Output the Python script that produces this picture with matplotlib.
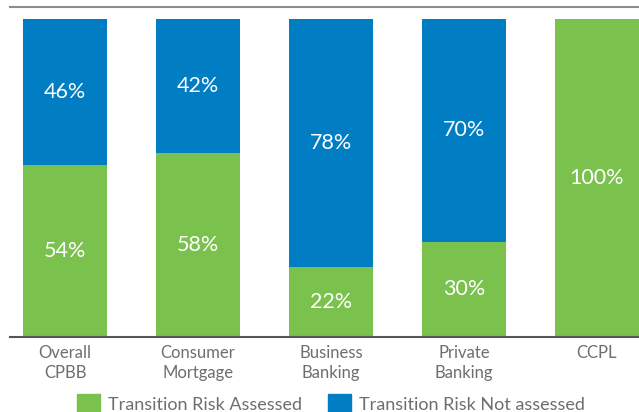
import numpy as np
import matplotlib.pyplot as plt
from matplotlib.patches import Patch

plt.rcParams['font.family'] = ['Lato', 'DejaVu Sans']

# segment shares per business line (percent)
categories = ['Overall\nCPBB', 'Consumer\nMortgage', 'Business\nBanking', 'Private\nBanking', 'CCPL']
assessed = [54, 58, 22, 30, 100]
not_assessed = [46, 42, 78, 70, 0]

green = '#7bc14e'
blue = '#007dc3'
grey = '#8c8c8c'

fig = plt.figure(figsize=(6.39, 4.12), dpi=100)
ax = fig.add_axes([10 / 639, 75 / 412, 629 / 639, 330 / 412])

x = np.arange(len(categories))
w = 0.632
ax.bar(x, assessed, w, color=green)
ax.bar(x, not_assessed, w, bottom=assessed, color=blue)

for i in range(len(categories)):
    if assessed[i] > 0:
        ax.text(x[i], assessed[i] / 2, '%d%%' % assessed[i], ha='center', va='center',
                color='white', fontsize=15.5)
    if not_assessed[i] > 0:
        ax.text(x[i], assessed[i] + not_assessed[i] / 2, '%d%%' % not_assessed[i],
                ha='center', va='center', color='white', fontsize=15.5)

ax.set_xlim(-0.414, 4.316)
ax.set_ylim(0, 103.8)
ax.set_yticks([])
ax.set_xticks(x)
ax.set_xticklabels(categories, color='#6e6e6e', fontsize=12, linespacing=1.25)
ax.tick_params(axis='x', length=0, pad=6)

for side in ['left', 'right']:
    ax.spines[side].set_visible(False)
ax.spines['bottom'].set_color('#555555')
ax.spines['bottom'].set_linewidth(1.5)
ax.spines['top'].set_color(grey)
ax.spines['top'].set_linewidth(1.5)

handles = [Patch(color=green, label='Transition Risk Assessed'),
           Patch(color=blue, label='Transition Risk Not assessed')]
leg = fig.legend(handles=handles, loc='center', bbox_to_anchor=(331 / 639, 8 / 412), ncol=2,
                 frameon=False, fontsize=13, handlelength=1.3, handleheight=1.3,
                 handletextpad=0.45, columnspacing=1.4, labelcolor='#6e6e6e')

fig.savefig('out.png', dpi=100)
